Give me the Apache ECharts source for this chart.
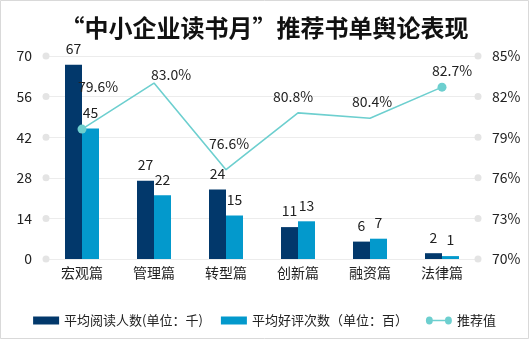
<!DOCTYPE html>
<html>
<head>
<meta charset="utf-8">
<script src="https://cdn.jsdelivr.net/npm/echarts@6/dist/echarts.min.js"></script>
<style>
  html, body { margin: 0; padding: 0; background: #fff; }
  #chart { width: 529px; height: 339px; }
</style>
</head>
<body>
<div id="chart"></div>
<script>
// Book categories and their reader feedback
const categories = ['宏观篇', '管理篇', '转型篇', '创新篇', '融资篇', '法律篇'];
const avgReaders = [67, 27, 24, 11, 6, 2];          // 平均阅读人数（千）
const avgPraise = [45, 22, 15, 13, 7, 1];           // 平均好评次数（百）
const recommendRate = [79.6, 83.0, 76.6, 80.8, 80.4, 82.7]; // 推荐值（%）
const leftTicks = [0, 14, 28, 42, 56, 70];
const rightTicks = [70, 73, 76, 79, 82, 85];

const FONT = '"Noto Sans CJK SC", "Noto Sans", sans-serif';
const DARK = '#02386b';
const LIGHT = '#0399cc';
const TEAL = '#6dcfcf';
const DOT = '#e4e4e4';

// hand-placed nudges for the rate labels so they clear the line
const rateLabelNudge = [[16, -26], [17, 4], [3, -14], [-5, -4], [2, -5], [10, 0]];

const lastIdx = recommendRate.length - 1;
const rateData = recommendRate.map((v, i) => ({
  value: v,
  symbolSize: (i === 0 || i === lastIdx) ? 9 : 0,
  label: { offset: rateLabelNudge[i] }
}));

const chart = echarts.init(document.getElementById('chart'), null, { renderer: 'canvas' });
chart.setOption({
  backgroundColor: '#fff',
  animation: false,
  textStyle: { fontFamily: FONT },
  title: {
    text: '“中小企业读书月”推荐书单舆论表现',
    left: 'center',
    top: 11,
    textStyle: { fontFamily: FONT, fontSize: 24, fontWeight: 'bold', color: '#111' }
  },
  legend: {
    left: 'center',
    top: 309,
    itemWidth: 26,
    itemHeight: 8,
    itemGap: 18,
    symbolKeepAspect: false,
    textStyle: { fontFamily: FONT, fontSize: 13, color: '#222' },
    data: [
      { name: '平均阅读人数(单位：千)', icon: 'rect' },
      { name: '平均好评次数（单位：百）', icon: 'rect' },
      { name: '推荐值', icon: 'path://M0,4A4,4,0,1,1,8,4A4,4,0,1,1,0,4Z M7,3.3L23,3.3L23,4.7L7,4.7Z M22,4A4,4,0,1,1,30,4A4,4,0,1,1,22,4Z' }
    ]
  },
  grid: { left: 46, right: 51, top: 56, bottom: 80, containLabel: false },
  xAxis: {
    type: 'category',
    data: categories,
    axisLine: { show: false },
    axisTick: { show: false },
    axisLabel: { fontFamily: FONT, fontSize: 14, color: '#222', margin: 7 }
  },
  yAxis: [
    {
      type: 'value',
      min: leftTicks[0],
      max: leftTicks[leftTicks.length - 1],
      interval: leftTicks[1] - leftTicks[0],
      axisLine: { show: false },
      axisTick: { show: false },
      axisLabel: { fontFamily: FONT, fontSize: 14, color: '#222', margin: 14 },
      splitLine: { lineStyle: { color: '#ececec', width: 1 } }
    },
    {
      type: 'value',
      min: rightTicks[0],
      max: rightTicks[rightTicks.length - 1],
      interval: rightTicks[1] - rightTicks[0],
      axisLine: { show: false },
      axisTick: { show: false },
      axisLabel: { fontFamily: FONT, fontSize: 14, color: '#222', margin: 14, formatter: '{value}%' },
      splitLine: { show: false }
    }
  ],
  series: [
    {
      name: '平均阅读人数(单位：千)',
      type: 'bar',
      data: avgReaders,
      barWidth: 17,
      barGap: '0%',
      itemStyle: { color: DARK },
      label: { show: true, position: 'top', distance: 9, fontFamily: FONT, fontSize: 14, color: '#222' }
    },
    {
      name: '平均好评次数（单位：百）',
      type: 'bar',
      data: avgPraise,
      barWidth: 17,
      barGap: '0%',
      itemStyle: { color: LIGHT },
      label: { show: true, position: 'top', distance: 9, fontFamily: FONT, fontSize: 14, color: '#222' }
    },
    {
      name: '推荐值',
      type: 'line',
      yAxisIndex: 1,
      data: rateData,
      symbol: 'circle',
      showAllSymbol: true,
      z: 5,
      lineStyle: { color: TEAL, width: 1.6 },
      itemStyle: { color: TEAL },
      label: {
        show: true,
        position: 'top',
        distance: 5,
        fontFamily: FONT,
        fontSize: 14,
        color: '#222',
        formatter: p => p.value.toFixed(1) + '%'
      }
    }
  ]
});

// Round markers at both ends of every gridline, placed through the axis scale
function drawTickDots() {
  const rect = chart.getModel().getComponent('grid').coordinateSystem.getRect();
  const dots = [];
  leftTicks.forEach(t => {
    const y = chart.convertToPixel({ yAxisIndex: 0 }, t);
    dots.push({ type: 'circle', shape: { cx: rect.x, cy: y, r: 3.5 }, style: { fill: DOT }, silent: true, z: 1 });
    dots.push({ type: 'circle', shape: { cx: rect.x + rect.width, cy: y, r: 3.5 }, style: { fill: DOT }, silent: true, z: 1 });
  });
  dots.push({
    type: 'rect',
    shape: { x: 0.5, y: 0.5, width: 528, height: 338 },
    style: { fill: 'none', stroke: '#d9d9d9', lineWidth: 1 },
    silent: true
  });
  chart.setOption({ graphic: dots });
}
drawTickDots();
</script>
</body>
</html>
